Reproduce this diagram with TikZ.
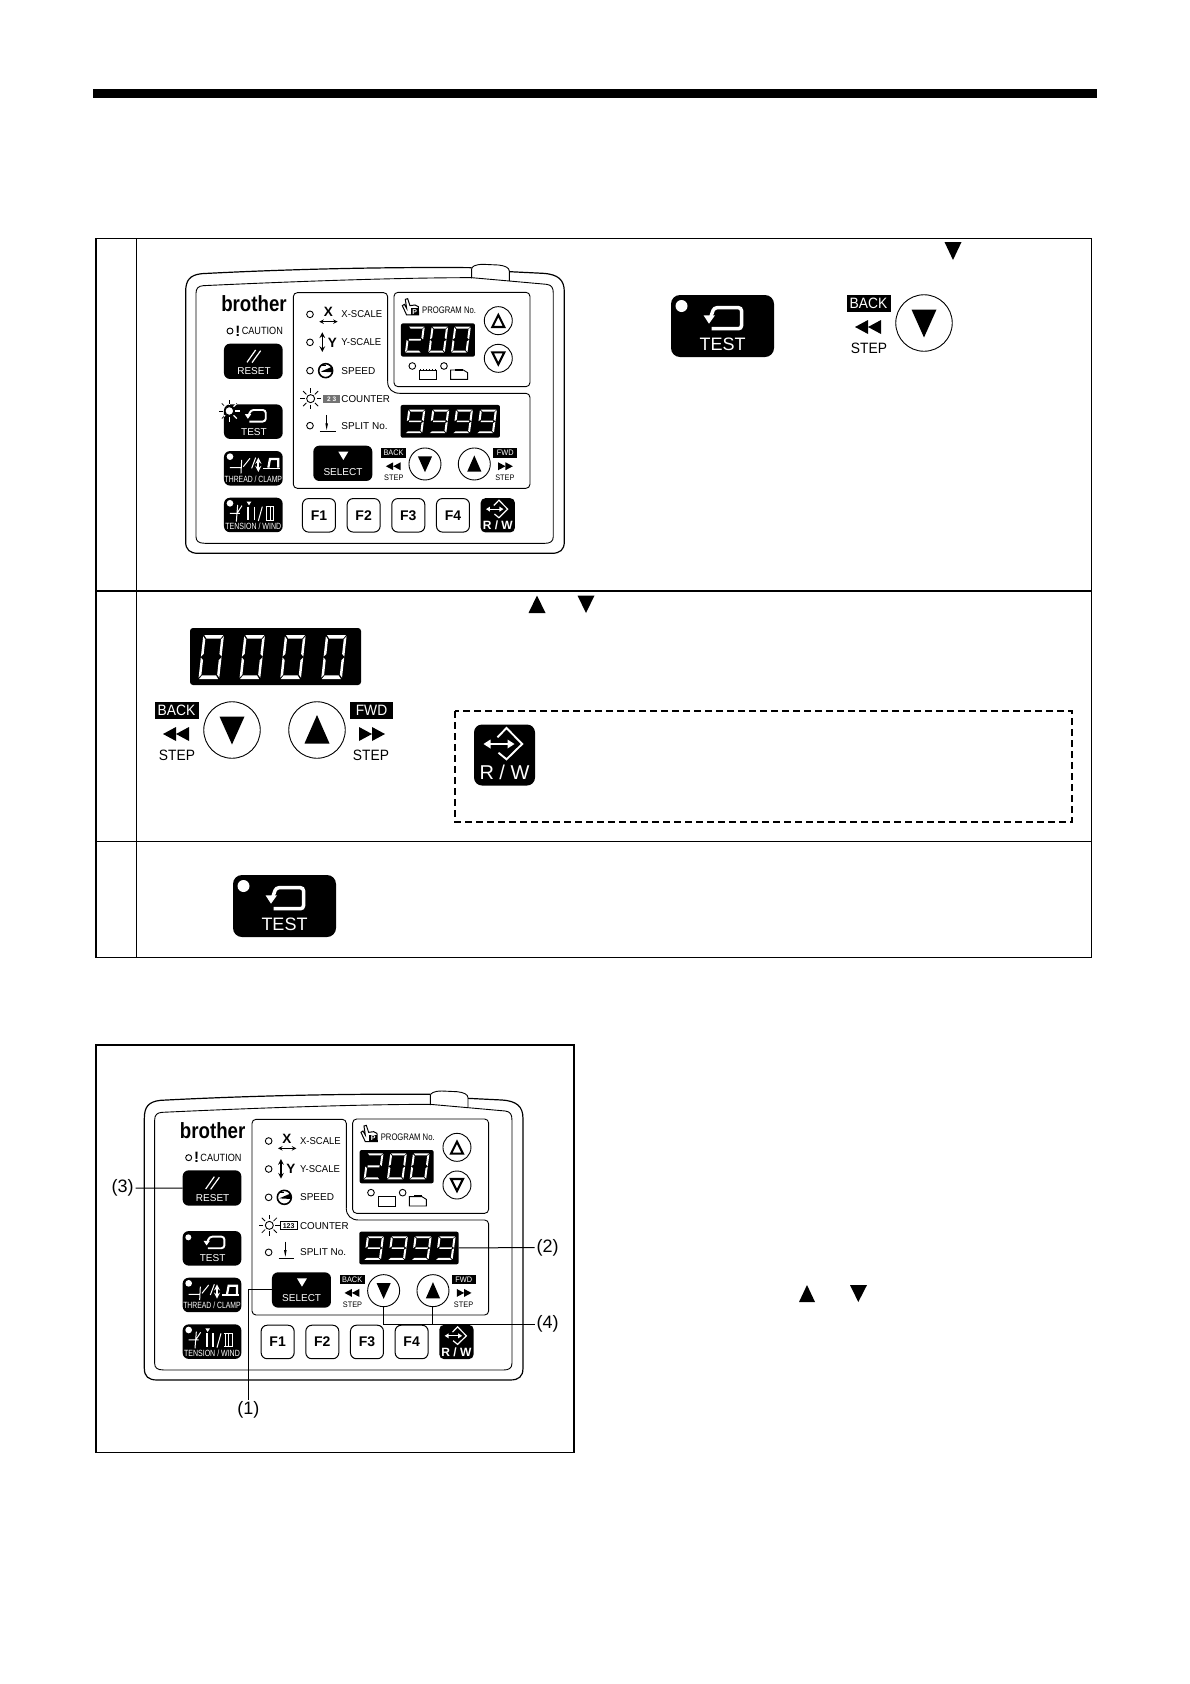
\documentclass[tikz,border=0pt]{standalone}
\usepackage{fontspec}
\usepackage{graphicx}
\setmainfont{Liberation Sans}
\newcounter{tn}
\tikzset{
  btn/.style={fill=black,rounded corners=6pt,inner sep=0pt,outer sep=0pt},
  keyc/.style={circle,draw,line width=0.9pt,fill=white,inner sep=0pt,outer sep=0pt},
  fkey/.style={draw,line width=1pt,rounded corners=6pt,fill=white,inner sep=0pt,outer sep=0pt,minimum width=33pt,minimum height=33.5pt},
  led/.style={draw,line width=0.9pt,fill=white},
  lab/.style={inner sep=2pt,outer sep=0pt},
  wl/.style={white,line width=1pt}
}
\newcommand\tx[6][]{\stepcounter{tn}\node[inner sep=0pt,#1] (t\arabic{tn}) at (#2,#3) {\scalebox{#5}[1]{\fontsize{#4}{#4}\selectfont #6}};}
\newcommand\segA{\fill[white] (.05,0)--(.97,0)--(.85,.08)--(.17,.08)--cycle;}
\newcommand\segD{\fill[white] (.03,1)--(.95,1)--(.83,.92)--(.15,.92)--cycle;}
\newcommand\segG{\fill[white] (.14,.465)--(.86,.465)--(.86,.535)--(.14,.535)--cycle;}
\newcommand\segF{\fill[white] (0,.03)--(.12,.1)--(.12,.43)--(0,.49)--cycle;}
\newcommand\segE{\fill[white] (0,.51)--(.12,.57)--(.12,.9)--(0,.97)--cycle;}
\newcommand\segB{\fill[white] (1,.03)--(.88,.1)--(.88,.43)--(1,.49)--cycle;}
\newcommand\segC{\fill[white] (1,.51)--(.88,.57)--(.88,.9)--(1,.97)--cycle;}
\newcommand\sevdig[6]{\begin{scope}[shift={(#1,#2)},x=#3pt,y=-#4pt,xslant=#5]\foreach \s in {#6}{\csname seg\s\endcsname}\end{scope}}
\newcommand\testglyph[3]{\begin{scope}[shift={(#1,#2)},x=#3pt,y=-#3pt]
  \pgfmathsetmacro\lw{3.5*#3}
  \draw[white,line width=\lw pt,rounded corners=3pt] (-11,10.7)--(19,10.7)--(19,-10.3)--(-8.5,-10.3)--(-11.5,-1.7);
  \fill[white] (-19,-2.7)--(-7.5,-2.7)--(-13.5,5.7)--cycle;
\end{scope}}
\newcommand\testbtn[3]{\node[btn,rounded corners=9pt,minimum width=103pt,minimum height=62pt] (#1) at (#2,#3) {};
  \begin{scope}[shift={(#2,#3)}]
  \fill[white] (-41,-20) circle (6);
  \testglyph{0}{-8}{1}
  \tx[text=white]{0}{18}{18}{1}{TEST}
  \end{scope}}
\newcommand\backgroup[5]{\begin{scope}[shift={(#2,#3)},x=#4pt,y=-#4pt]
  \pgfmathsetmacro\dd{56.5*#4}\pgfmathsetmacro\ww{44*#4}\pgfmathsetmacro\hh{16.5*#4}
  \node[keyc,minimum size=\dd pt] (#1) at (0,0) {};
  \fill (-12.5,-13.5)--(12.5,-13.5)--(0,14.5)--cycle;
  \node[fill=black,inner sep=0pt,minimum width=\ww pt,minimum height=\hh pt,text=white] (#1l) at (-55.5,-19.5) {\scalebox{.92}[1]{\fontsize{#5}{#5}\selectfont BACK}};
  \fill (-69,4)--(-56,-3)--(-56,11)--cycle;
  \fill (-56,4)--(-43,-3)--(-43,11)--cycle;
  \tx{-55}{25}{#5}{.92}{STEP}
\end{scope}}
\newcommand\fwdgroup[5]{\begin{scope}[shift={(#2,#3)},x=#4pt,y=-#4pt]
  \pgfmathsetmacro\dd{56.5*#4}\pgfmathsetmacro\ww{43*#4}\pgfmathsetmacro\hh{16.5*#4}
  \node[keyc,minimum size=\dd pt] (#1) at (0,0) {};
  \fill (-12.5,13.5)--(12.5,13.5)--(0,-15)--cycle;
  \node[fill=black,inner sep=0pt,minimum width=\ww pt,minimum height=\hh pt,text=white] (#1l) at (54.5,-19.5) {\scalebox{.92}[1]{\fontsize{#5}{#5}\selectfont FWD}};
  \fill (68,4)--(55,-3)--(55,11)--cycle;
  \fill (55,4)--(42,-3)--(42,11)--cycle;
  \tx{54}{25}{#5}{.92}{STEP}
\end{scope}}
\newcommand\rwbtn[6]{\pgfmathsetmacro\bb{61*#4}\pgfmathsetmacro\rl{1.6*#4+.3}
  \node[btn,rounded corners=8*#4 pt,minimum size=\bb pt] (#1) at (#2,#3) {};
  \begin{scope}[shift={(#2,#3)},x=#4pt,y=-#4pt]
  \draw[white,line width=\rl pt,line join=miter] (-7,-17.7)--(2,-27)--(17.7,-11)--(2,4.3)--(-6,-2.3);
  \draw[white,line width=\rl pt] (-17,-11)--(6,-11);
  \fill[white] (-21,-11)--(-14,-15.5)--(-14,-6.5)--cycle;
  \fill[white] (10,-11)--(3,-15.5)--(3,-6.5)--cycle;
  \tx[text=white]{0}{17.5}{#5}{1}{#6}
  \end{scope}}
\newcommand\blink[3]{\foreach \a in {0,45,...,315}{\draw[#3] (#1,#2)++(\a:18)--++(\a:14);}}
\newcommand\panel[2]{%
  \draw[line width=1.2pt] (1018,50)--(1120,55) .. controls (1165,58) and (1183,75) .. (1183,110)--(1183,860) .. controls (1183,885) and (1170,895) .. (1145,895)--(85,895) .. controls (60,895) and (47,885) .. (47,860)--(47,110) .. controls (47,75) and (60,60) .. (95,56) .. controls (400,40) and (700,36) .. (905,38);
  \draw[line width=0.9pt] (905,70)--(905,42) .. controls (905,35) and (915,28) .. (940,28)--(985,30) .. controls (1005,32) and (1018,38) .. (1018,48)--(1018,78);
  \draw[line width=0.9pt] (78,115) .. controls (78,100) and (85,93) .. (100,92) .. controls (400,78) and (700,68) .. (905,68)--(1018,78)--(1130,88) .. controls (1145,90) and (1150,98) .. (1150,115)--(1150,845) .. controls (1150,860) and (1140,865) .. (1125,865)--(105,865) .. controls (85,865) and (78,858) .. (78,845)--cycle;
  \draw[line width=0.9pt] (653,380) .. controls (653,402) and (668,415) .. (690,415);
  \draw[line width=0.9pt,rounded corners=4pt] (653,380)--(653,113)--(370,113)--(370,700)--(1080,700)--(1080,415)--(690,415);
  \draw[line width=0.9pt,rounded corners=4pt] (672,112) rectangle (1080,395);
  % left column
  \tx{252}{147}{22}{.85}{\bfseries brother}
  \draw[led] (180,228) circle (9);
  \tx{204}{228}{15}{1}{\bfseries !}
  \tx{277}{228}{10.5}{.87}{CAUTION}
  \node[btn,minimum width=58.7pt,minimum height=35.3pt] (#1reset) at (250,319) {};
  \draw[white,line width=1.2pt] (231,322)--(257,285) (246,323)--(272,287);
  \tx[text=white]{252}{349}{10}{1}{RESET}
  \node[btn,minimum width=58.7pt,minimum height=34.5pt] (#1test) at (250,500) {};
  \testglyph{256}{482}{.55}
  \tx[text=white]{252}{530}{10}{1}{TEST}
  \ifnum#2=1
    \blink{178}{468}{black,line width=.8pt}
    \begin{scope}\clip (162,449) rectangle (338,552);\blink{178}{468}{white,line width=1.2pt}\end{scope}
    \draw[led] (178,468) circle (13);
  \else
    \fill[white] (179,467) circle (9);
  \fi
  \node[btn,minimum width=58.7pt,minimum height=34.5pt] (#1thread) at (250,640) {};
  \fill[white] (180,605) circle (10);
  \draw[wl] (180,638)--(215,638) (215,615)--(213,655) (220,635)--(240,610) (245,640)--(257,608);
  \draw[white,line width=1.7pt,<->,>=stealth] (265,608)--(265,651);
  \draw[white,line width=1.2pt] (280,640)--(330,640);
  \draw[white,line width=2.2pt] (295,638)--(300,612)--(325,612)--(325,638);
  \tx[text=white]{250}{672}{9}{.76}{THREAD / CLAMP}
  \node[btn,minimum width=58.7pt,minimum height=34.5pt] (#1tension) at (250,780) {};
  \fill[white] (180,745) circle (10);
  \draw[wl] (180,775)--(210,775) (203,750)--(199,800) (203,772)--(216,752);
  \fill[white] (230,740)--(244,740)--(237,751)--cycle;
  \draw[white,line width=2pt] (235,755)--(235,795);
  \draw[white,line width=1.6pt] (253,755)--(253,795);
  \draw[wl] (265,798)--(277,755);
  \draw[white,line width=.8pt] (287,755)--(313,755) (287,795)--(313,795) (290,755)--(290,795) (300,755)--(300,795) (310,755)--(310,795);
  \tx[text=white]{250}{815}{9}{.78}{TENSION / WIND}
  % F keys
  \node[fkey] (#1f1) at (447,781) {\fontsize{14}{14}\selectfont\bfseries F1};
  \node[fkey] (#1f2) at (581,781) {\fontsize{14}{14}\selectfont\bfseries F2};
  \node[fkey] (#1f3) at (715,781) {\fontsize{14}{14}\selectfont\bfseries F3};
  \node[fkey] (#1f4) at (849,781) {\fontsize{14}{14}\selectfont\bfseries F4};
  \rwbtn{#1rw}{983.5}{781}{.56}{12}{\bfseries R / W}
  % scale rows
  \draw[led] (420,178) circle (10);
  \tx{475}{172}{13.5}{1}{\bfseries X}
  \draw[line width=1pt,<->,>=stealth] (448,200)--(503,200);
  \tx[anchor=west]{513}{178}{10}{.95}{X-SCALE}
  \draw[led] (420,262) circle (10);
  \draw[line width=1.5pt,<->,>=stealth] (457,232)--(457,291);
  \tx{487}{263}{13.5}{1}{\bfseries Y}
  \tx[anchor=west]{513}{262}{10}{.95}{Y-SCALE}
  \draw[led] (420,347) circle (10);
  \draw[line width=1.6pt,fill=white] (467,347) circle (21);
  \fill (452,350)--(487,335)--(487,352)--cycle;
  \draw[line width=1pt] (452,331)--(467,331);
  \tx[anchor=west]{513}{347}{10}{1}{SPEED}
  \blink{422}{431}{black,line width=.8pt}
  \draw[led] (422,431) circle (12);
  \ifnum#2=1
    \node[fill=black!55,text=white,inner sep=0pt,minimum width=16.5pt,minimum height=8pt] (#1cnt) at (485,432) {\fontsize{6.5}{6.5}\selectfont\bfseries 2 3};
  \else
    \node[draw,line width=.7pt,fill=white,inner sep=0pt,minimum width=16.5pt,minimum height=8pt] (#1cnt) at (480,432) {\fontsize{7}{7}\selectfont\bfseries 123};
  \fi
  \tx[anchor=west]{513}{432}{10}{.98}{COUNTER}
  \draw[led] (420,512) circle (10);
  \draw[line width=.9pt] (470,480)--(470,520) (450,530)--(497,530);
  \fill (466,505)--(474,505)--(470,525)--cycle;
  \tx[anchor=west]{513}{512}{10}{1.0}{SPLIT No.}
  % program area
  \draw[line width=1pt,fill=white] (710,180)--(697,152)--(703,148)--(710,160)--(706,133)--(713,131)--(720,152)--(735,150)--(745,155)--(746,180)--cycle;
  \node[fill=black,text=white,inner sep=0pt,minimum width=8pt,minimum height=7pt] (#1pbox) at (734,170) {\fontsize{7}{7}\selectfont\bfseries P};
  \tx[anchor=west]{755}{167}{9.5}{.81}{PROGRAM No.}
  \node[btn,rounded corners=2pt,minimum width=74pt,minimum height=33.3pt] (#1disp) at (804,255) {};
  \sevdig{715}{215}{16.5}{26}{.13}{A,B,G,E,D}
  \sevdig{785}{215}{16.5}{26}{.13}{A,B,C,D,E,F}
  \sevdig{853}{215}{16.5}{26}{.13}{A,B,C,D,E,F}
  \node[keyc,minimum size=28pt] (#1pup) at (985,197) {};
  \draw[line width=2.1pt] (985,180)--(1003,216)--(967,216)--cycle;
  \node[keyc,minimum size=28pt] (#1pdn) at (985,310) {};
  \draw[line width=2.1pt] (985,328)--(1003,292)--(967,292)--cycle;
  \draw[led] (727,333) circle (10);
  \draw[line width=.9pt] (748,345) rectangle (800,373);
  \draw[line width=1pt,dotted] (750,343)--(798,343);
  \draw[led] (822,333) circle (10);
  \draw[line width=.9pt] (842,345)--(880,345)--(893,353)--(893,373)--(842,373)--cycle;
  \fill (855,341) rectangle (880,347);
  % counter display
  \node[btn,rounded corners=2pt,minimum width=99.3pt,minimum height=32.7pt] (#1disptwo) at (841,499) {};
  \foreach \xx in {715,787,858,930}{\sevdig{\xx}{464}{17}{23.5}{.13}{A,B,C,D,F,G}}
  % select + steps
  \node[btn,minimum width=59pt,minimum height=35.3pt] (#1select) at (518.5,625) {};
  \fill[white] (505,590)--(535,590)--(520,615)--cycle;
  \tx[text=white]{519}{650}{10}{1}{SELECT}
  \backgroup{#1down}{765}{627}{.5667}{8}
  \fwdgroup{#1up}{913}{627}{.5667}{8}
}
\begin{document}
\begin{tikzpicture}[x=1pt,y=-1pt,line width=1pt]
\useasboundingbox (0,0) rectangle (1190,1684);
\fill[white] (0,0) rectangle (1190,1684);
\fill (92.5,89) rectangle (1097,98);
\draw[line width=1.1pt] (96,238.5) rectangle (1091.5,957.5);
\draw[line width=1.1pt] (96,591)--(1091.5,591) (96,841.5)--(1091.5,841.5) (136.5,238.5)--(136.5,957.5);
\fill (944.5,242)--(961.5,242)--(953,260)--cycle;
\fill (528.5,613)--(545.5,613)--(537,595.5)--cycle;
\fill (577.5,595.5)--(594.5,595.5)--(586,613)--cycle;
\begin{scope}[shift={(170,255)},x=.3333pt,y=-.3333pt]
\panel{a}{1}
\end{scope}
\testbtn{btest}{722.5}{326}
\backgroup{bdown}{924}{323}{1}{15}
\node[btn,rounded corners=3pt,minimum width=171pt,minimum height=57pt] (dispbig) at (275.5,656.5) {};
\foreach \xx in {203.3,244.3,285,326}{\sevdig{\xx}{635}{20.7}{44}{.11}{A,B,C,D,E,F}}
\backgroup{cdown}{232}{730}{1}{15}
\fwdgroup{cup}{317}{730}{1}{15}
\draw[line width=1.3pt,dash pattern=on 7pt off 4pt] (455,711) rectangle (1072,822);
\rwbtn{crw}{504.5}{755}{1}{20}{R / W}
\testbtn{dtest}{284.5}{906}
\draw[line width=1.7pt] (96.3,1045) rectangle (574,1452.5);
\begin{scope}[shift={(128.67,1081.67)},x=.3333pt,y=-.3333pt]
\panel{b}{2}
\end{scope}
\node[lab] (l3) at (122.7,1188) {\fontsize{18}{18}\selectfont (3)};
\node[lab] (l2) at (547.7,1247.5) {\fontsize{18}{18}\selectfont (2)};
\node[lab] (l4) at (547.7,1324) {\fontsize{18}{18}\selectfont (4)};
\node[lab] (l1) at (248.3,1410) {\fontsize{18}{18}\selectfont (1)};
\draw (l3.east)--(breset.west);
\draw (l2.west)--(bdisptwo.east);
\draw (bselect.west)-|(l1.north);
\draw (bdown.south)|-(l4.west);
\draw (bup.south)|-(l4.west);
\fill (799,1302)--(815,1302)--(807,1285)--cycle;
\fill (850,1285)--(867,1285)--(858.3,1302)--cycle;
\end{tikzpicture}
\end{document}
